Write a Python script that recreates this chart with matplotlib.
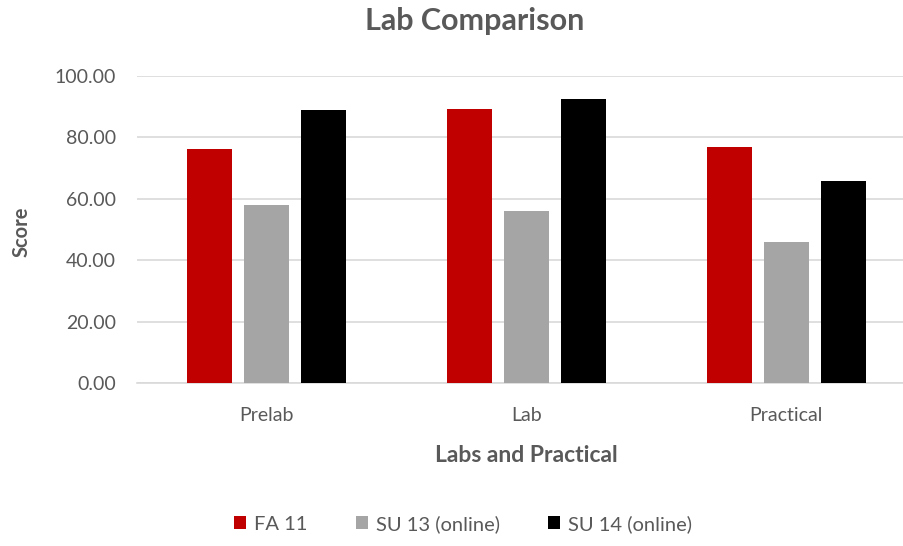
import numpy as np
import matplotlib
matplotlib.use("Agg")
import matplotlib.pyplot as plt

# values
categorias = ["Prelab", "Lab", "Practical"]
series = ["FA 11", "SU 13 (online)", "SU 14 (online)"]
fa11 = [76.1, 89.3, 76.9]
su13 = [57.9, 56.1, 46.0]
su14 = [88.8, 92.3, 65.9]
colores = ["#C00000", "#A5A5A5", "#000000"]

plt.rcParams["font.family"] = ["Lato", "DejaVu Sans"]
gris_texto = "#595959"

fig = plt.figure(figsize=(9.04, 5.46), dpi=100)
ax = fig.add_axes([0.1512, 0.2982, 0.8624, 0.5632])

x = np.arange(len(categorias))
ancho = 0.173
paso = 0.22
for i, (valores, nombre, color) in enumerate(zip([fa11, su13, su14], series, colores)):
    ax.bar(x + (i - 1) * paso, valores, ancho, color=color, label=nombre, zorder=3)

ax.set_xlim(-0.5, 2.5)
ax.set_ylim(0, 100)
ax.set_yticks(np.arange(0, 101, 20))
ax.set_yticklabels([f"{v:.2f}" for v in np.arange(0, 101, 20)])
ax.set_xticks(x)
ax.set_xticklabels(categorias)
ax.grid(axis="y", color="#D9D9D9", linewidth=1.2, zorder=0)
for lado in ["top", "right", "left"]:
    ax.spines[lado].set_visible(False)
ax.spines["bottom"].set_color("#D9D9D9")
ax.spines["bottom"].set_linewidth(1.2)
ax.tick_params(axis="both", length=0, labelsize=14, colors=gris_texto)
ax.tick_params(axis="y", pad=15)
ax.tick_params(axis="x", pad=17)

fig.text(475 / 904, 1 - 21 / 546, "Lab Comparison", ha="center", va="center",
         fontsize=22, fontweight="bold", color=gris_texto)
fig.text(22 / 904, 1 - 232 / 546, "Score", ha="center", va="center", rotation=90,
         fontsize=14.5, fontweight="bold", color=gris_texto)
fig.text(526 / 904, 1 - 455 / 546, "Labs and Practical", ha="center", va="center",
         fontsize=16.5, fontweight="bold", color=gris_texto)

leg = fig.legend(loc="center", bbox_to_anchor=(463 / 904, 1 - 524 / 546), ncol=3,
                 frameon=False, fontsize=14.5, handlelength=0.6, handleheight=0.6,
                 handletextpad=0.4, columnspacing=2.4)
for t in leg.get_texts():
    t.set_color(gris_texto)

fig.savefig("out.png", dpi=100)
